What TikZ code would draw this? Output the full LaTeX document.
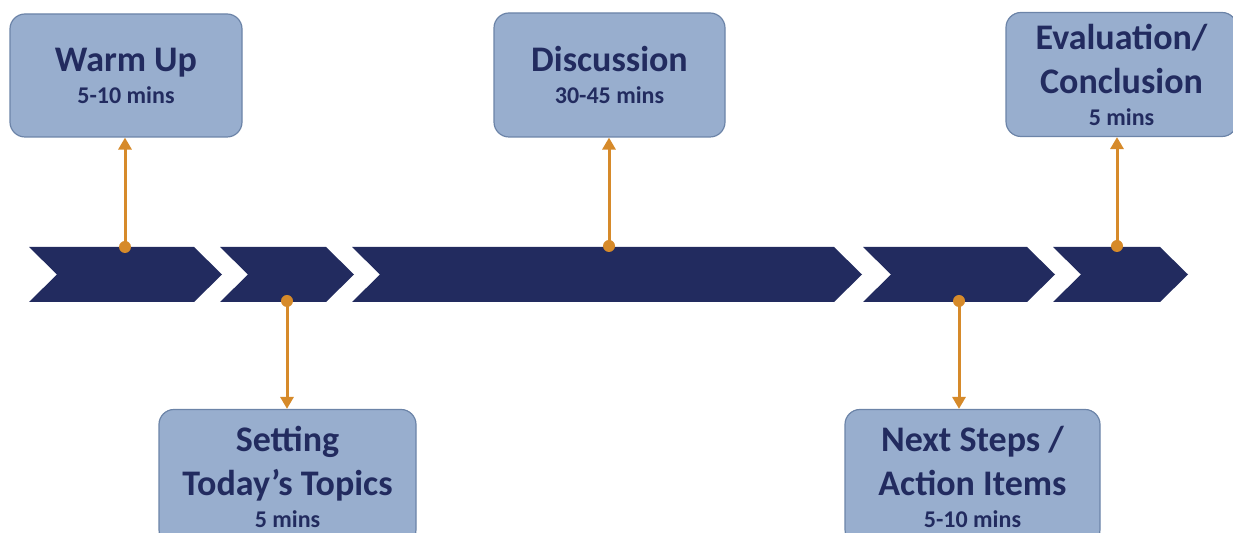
\documentclass[tikz,border=0pt]{standalone}
\usepackage{fontspec}
\setmainfont{Carlito}
\usepackage{xcolor}
\usepackage{tikz}
\usetikzlibrary{calc}
\usetikzlibrary{positioning}
\usetikzlibrary{arrows.meta}

\definecolor{navy}{HTML}{222B5F}
\definecolor{boxfill}{HTML}{98AECE}
\definecolor{boxline}{HTML}{6C84A8}
\definecolor{amber}{HTML}{D68A2A}

\newcommand{\mins}[1]{{\fontsize{12}{14}\selectfont #1}}

\begin{document}
\begin{tikzpicture}[
		x=0.5pt, y=-0.5pt,
		stagebox/.style={draw=boxline, fill=boxfill, line width=0.6pt, rounded corners=7.5pt,
			minimum height=61.5pt, text=navy, align=center, inner sep=0pt,
			font=\bfseries\fontsize{18}{22}\selectfont},
		dot/.style={circle, fill=amber, inner sep=0pt, minimum size=6pt},
		link/.style={-{Triangle[length=6pt, width=6.5pt]}, draw=amber, line width=1.5pt}
		]
		\useasboundingbox (0,0) rectangle (1233,533);
		
		% Band aus Pfeilen
		\fill[navy] (29,247) -- (194,247) -- (222,274.5) -- (194,302) -- (29,302) -- (57,274.5) -- cycle;
		\fill[navy] (220,247) -- (326,247) -- (354,274.5) -- (326,302) -- (220,302) -- (248,274.5) -- cycle;
		\fill[navy] (352,247) -- (834,247) -- (862,274.5) -- (834,302) -- (352,302) -- (380,274.5) -- cycle;
		\fill[navy] (863,247) -- (1027,247) -- (1055,274.5) -- (1027,302) -- (863,302) -- (891,274.5) -- cycle;
		\fill[navy] (1053,247) -- (1160,247) -- (1188,274.5) -- (1160,302) -- (1053,302) -- (1081,274.5) -- cycle;
		
		% Abschnitte oben
		\node[stagebox, minimum width=116pt] (warm) at (126,75.5) {Warm Up\\[-6pt]\mins{5-10 mins}};
		\node[stagebox, minimum width=115.5pt, minimum height=62pt] (disc) at (609.5,75) {Discussion\\[-6pt]\mins{30-45 mins}};
		\node[stagebox, minimum width=115.5pt, minimum height=62pt] (eval) at (1121.5,74.5) {Evaluation/\\Conclusion\\[-6pt]\mins{5 mins}};
		
		% Abschnitte unten
		\node[stagebox, minimum width=128.5pt, minimum height=67.5pt] (topics) at (287.5,477) {Setting\\Today’s Topics\\[-6pt]\mins{5 mins}};
		\node[stagebox, minimum width=127.5pt, minimum height=67.5pt] (next) at (972.5,477) {Next Steps /\\Action Items\\[-6pt]\mins{5-10 mins}};
		
		% Punkte auf dem Band
		\node[dot] (warm-dot) at (125,247) {};
		\node[dot] (topics-dot) at (287,301) {};
		\node[dot] (disc-dot) at (609,246) {};
		\node[dot] (next-dot) at (959,301) {};
		\node[dot] (eval-dot) at (1117,246) {};
		
		% Verbindungen
		\draw[link] (warm-dot.center) -- (warm-dot |- warm.south);
		\draw[link] (disc-dot.center) -- (disc-dot |- disc.south);
		\draw[link] (eval-dot.center) -- (eval-dot |- eval.south);
		\draw[link] (topics-dot.center) -- (topics-dot |- topics.north);
		\draw[link] (next-dot.center) -- (next-dot |- next.north);
		
	\end{tikzpicture}
\end{document}
